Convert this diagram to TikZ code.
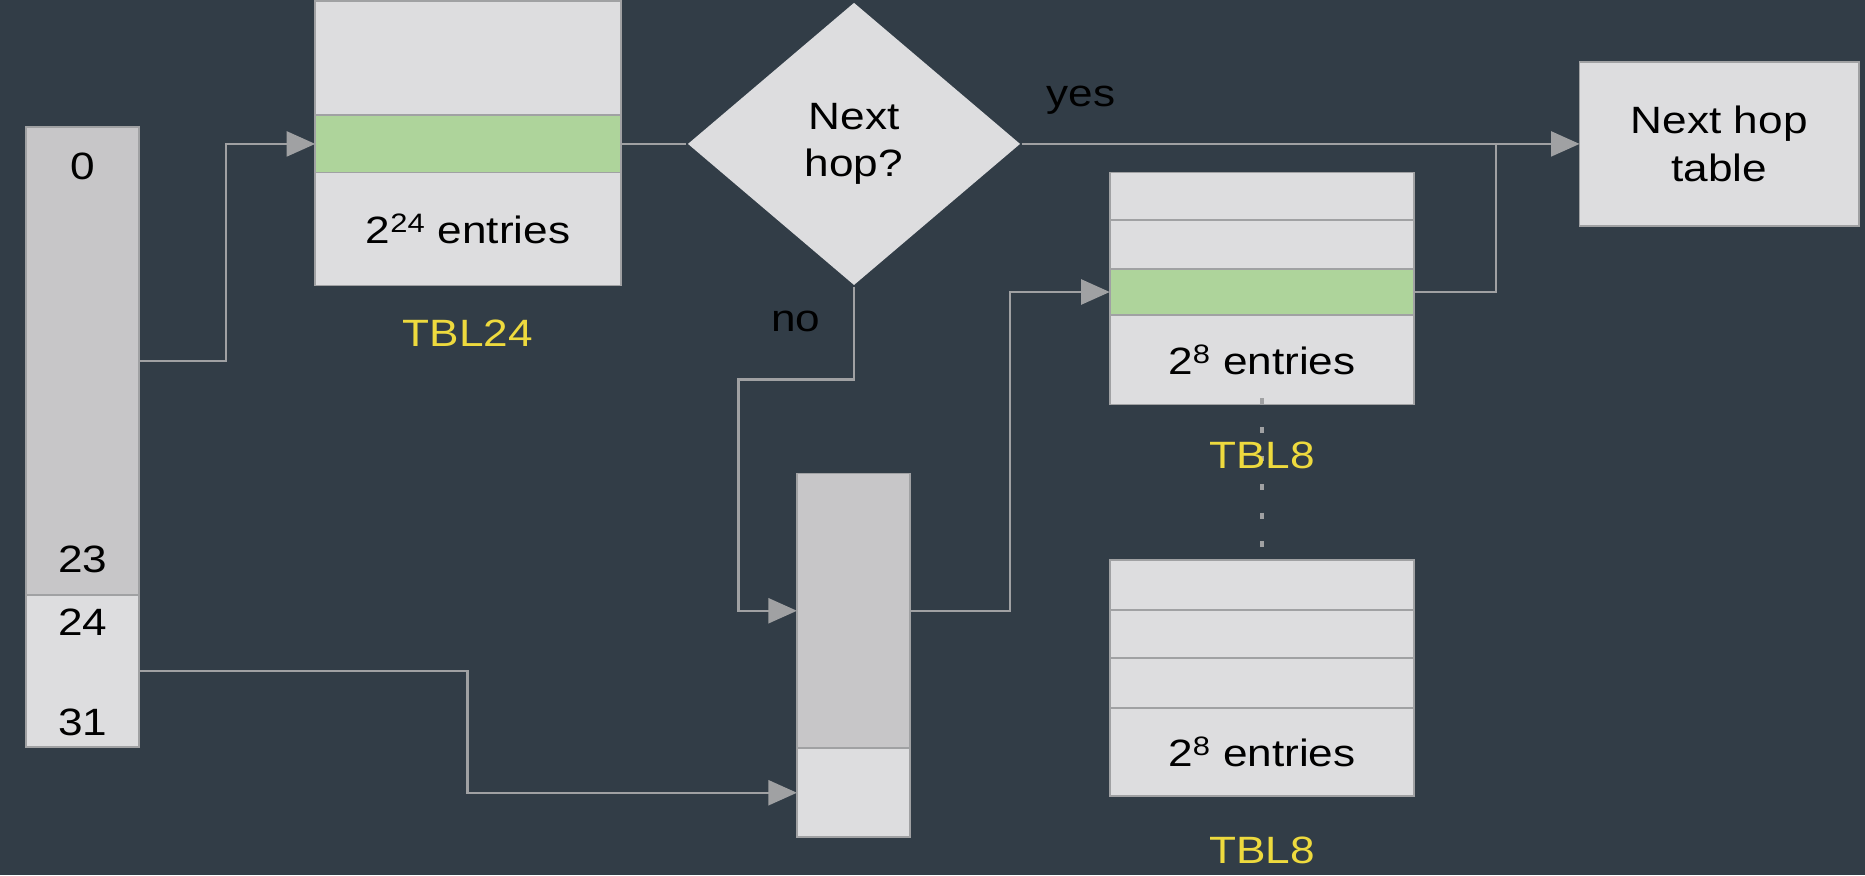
\documentclass[tikz,border=0pt]{standalone}
\usepackage{fontspec}
\setmainfont{Liberation Sans}[FakeStretch=1.16]
\usepackage{tikz}
\usetikzlibrary{arrows.meta, shapes.geometric, positioning}
\definecolor{slate}{RGB}{50,61,71}
\definecolor{cellgray}{RGB}{221,221,223}
\definecolor{bitgray}{RGB}{199,198,200}
\definecolor{hitgreen}{RGB}{174,212,155}
\definecolor{wiregray}{RGB}{160,161,163}
\definecolor{tblyellow}{RGB}{238,218,62}

\begin{document}
\begin{tikzpicture}[x=1pt,y=-1pt,>={Triangle[length=24pt,width=21pt]},
                    line width=2pt]
\tikzstyle{cell}=[draw=wiregray,fill=cellgray,line width=1.5pt,inner sep=0pt,outer sep=0pt,anchor=north west,minimum width=257pt]
\tikzstyle{link}=[draw=wiregray,line width=2pt]
\tikzset{font=\fontsize{32pt}{40pt}\selectfont}

        \fill[slate] (0,0) rectangle (1568,736);
        \useasboundingbox (0,0) rectangle (1568,736);

        % address bits
        \node[cell, fill=bitgray, minimum width=95pt, minimum height=393pt]     (bitshi) at (22,107) {};
        \node[cell, minimum width=95pt, minimum height=128pt]                   (bitslo) at (bitshi.south west) {};
        \node (b0)  at (69.5,140) {0};
        \node (b23) at (69.5,470) {23};
        \node (b24) at (69.5,523) {24};
        \node (b31) at (69.5,607) {31};

        % TBL24
        \node[cell, minimum height=96pt]                   (t24a) at (265,1) {};
        \node[cell, fill=hitgreen, minimum height=48pt]    (t24g) at (t24a.south west) {};
        \node[cell, minimum height=95pt]                   (t24b) at (t24g.south west) {2\textsuperscript{24} entries};
        \node[text=tblyellow, below of=t24b, node distance=87.5pt]    (t24name) {TBL24};

        % decision
        \node[diamond, fill=cellgray, minimum width=280pt, minimum height=238pt, inner sep=0pt, align=center] (hop) at (718,121) {Next\\hop?};

        % next hop table
        \node[cell, anchor=center, minimum width=235pt, minimum height=138pt, align=center] (nht) at (1445.5,121) {Next hop\\table};

        % first TBL8
        \node[cell, minimum width=256pt, minimum height=40pt]                  (t8a) at (933,145) {};
        \node[cell, minimum width=256pt, minimum height=41pt]                  (t8b) at (t8a.south west) {};
        \node[cell, minimum width=256pt, fill=hitgreen, minimum height=39pt]   (t8g) at (t8b.south west) {};
        \node[cell, minimum width=256pt, minimum height=75pt]                  (t8c) at (t8g.south west) {2\textsuperscript{8} entries};

        % last TBL8
        \node[cell, minimum width=256pt, minimum height=42pt]                  (u8a) at (933,471) {};
        \node[cell, minimum width=256pt, minimum height=40pt]                  (u8b) at (u8a.south west) {};
        \node[cell, minimum width=256pt, minimum height=42pt]                  (u8c) at (u8b.south west) {};
        \node[cell, minimum width=256pt, minimum height=74pt]                  (u8d) at (u8c.south west) {2\textsuperscript{8} entries};

        \draw[draw=wiregray, line width=4pt, dash pattern=on 5pt off 19pt] (t8c.south) ++(0,-5) -- (u8a.north);
        \node[text=tblyellow, below of=t8c, node distance=80.5pt]   (t8name) {TBL8};
        \node[text=tblyellow, below of=u8d, node distance=83pt]     (u8name) {TBL8};

        % tbl8 index
        \node[cell, fill=bitgray, minimum width=95pt, minimum height=231pt]     (midhi) at (670,398) {};
        \node[cell, minimum width=95pt, minimum height=75pt]                    (midlo) at (midhi.south west) {};

        \coordinate (nobend)  at (621,319);
        \coordinate (yesjoin) at (1258,121);

        \draw[link,->] (bitshi.east) -- ++(73,0) |- (t24g.west);
        \draw[link]    (t24g.east) -- (hop.west);
        \draw[link,->] (hop.east) -- node[pos=0.106, yshift=37pt] {yes} (nht.west);
        \draw[link,->] (hop.south) -- node[pos=0.37, xshift=-49pt] {no} (hop.south |- nobend) -- (nobend) |- (midhi.west);
        \draw[link,->] (bitslo.east) -- ++(276,0) |- (midlo.west);
        \draw[link,->] (midhi.east) -- ++(84,0) |- (t8g.west);
        \draw[link]    (t8g.east) -| (yesjoin);
        %end links

\end{tikzpicture}
\end{document}
